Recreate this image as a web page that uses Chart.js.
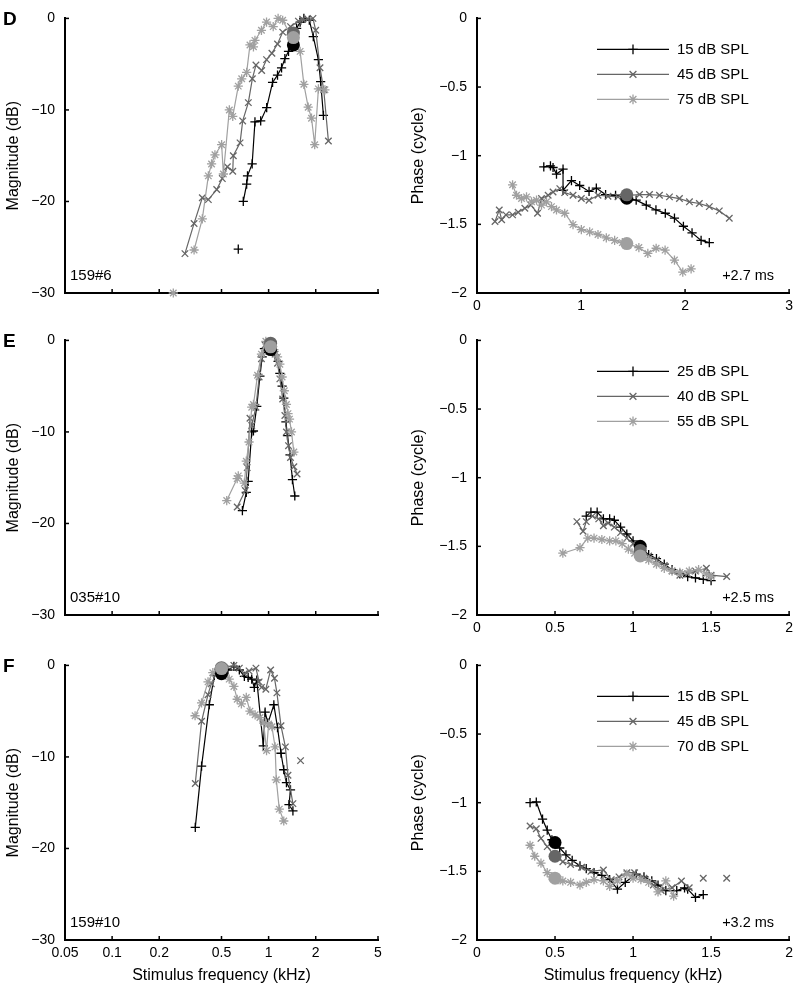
<!DOCTYPE html>
<html><head><meta charset="utf-8">
<script src="https://cdn.jsdelivr.net/npm/chart.js@4.4.1/dist/chart.umd.min.js"></script>
<style>
html,body{margin:0;padding:0;background:#fff}
body{width:798px;height:985px;position:relative;overflow:hidden}
canvas{position:absolute}
</style></head><body>
<canvas id="dL" width="400" height="320" style="left:0;top:0"></canvas>
<canvas id="dR" width="398" height="320" style="left:400px;top:0"></canvas>
<canvas id="eL" width="400" height="320" style="left:0;top:322px"></canvas>
<canvas id="eR" width="398" height="320" style="left:400px;top:322px"></canvas>
<canvas id="fL" width="400" height="338" style="left:0;top:647px"></canvas>
<canvas id="fR" width="398" height="338" style="left:400px;top:647px"></canvas>
<script>
// ---------- labels / ticks ----------
const levelsD = ['15 dB SPL', '45 dB SPL', '75 dB SPL'];
const levelsE = ['25 dB SPL', '40 dB SPL', '55 dB SPL'];
const levelsF = ['15 dB SPL', '45 dB SPL', '70 dB SPL'];
const panelLetters = ['D', 'E', 'F'];
const unitNames = ['159#6', '035#10', '159#10'];
const delays = ['+2.7 ms', '+2.5 ms', '+3.2 ms'];
const magTicks = [0, -10, -20, -30];
const phaseTicks = [0, -0.5, -1, -1.5, -2];
const logFreqTicks = [0.05, 0.1, 0.2, 0.5, 1, 2, 5];
const linFreqTicksD = [0, 1, 2, 3];
const linFreqTicksEF = [0, 0.5, 1, 1.5, 2];

// ---------- panel D (159#6) ----------
const dMag15 = [[0.64,-25.2], null, [0.689,-20.0],[0.724,-18.1],[0.733,-17.2],[0.785,-15.9],[0.818,-11.3],[0.89,-11.2],[0.972,-9.75],[1.06,-7.0],[1.14,-6.2],[1.21,-5.4],[1.27,-4.4],[1.34,-3.6],[1.43,-3.0],[1.51,-1.1],[1.59,-0.4],[1.68,0],[1.82,-0.2],[1.93,-2.0],[2.08,-4.5],[2.15,-6.9],[2.24,-10.6]];
const dMag45 = [[0.292,-25.7],[0.334,-22.4],[0.377,-19.6],[0.412,-19.8],[0.466,-18.7],[0.506,-17.5],[0.545,-16.2],[0.59,-16.7],[0.595,-15.0],[0.657,-13.6],[0.683,-11.2],[0.742,-9.2],[0.787,-6.6],[0.83,-5.1],[0.903,-5.7],[0.97,-4.5],[1.05,-3.8],[1.14,-2.8],[1.23,-1.5],[1.38,-0.9],[1.55,-0.3],[1.65,-0.1],[1.78,-0.1],[1.92,0],[2.0,-1.3],[2.13,-5.4],[2.25,-7.8],[2.41,-13.4]];
const dMag75 = [[0.246,-30], null, [0.334,-25.3],[0.377,-21.9],[0.412,-17.2],[0.432,-15.9],[0.454,-14.9],[0.501,-13.8],[0.514,-17.0],[0.561,-10.0],[0.59,-10.7],[0.64,-7.4],[0.673,-6.6],[0.724,-5.9],[0.76,-2.9],[0.8,-3.1],[0.818,-2.4],[0.9,-1.3],[0.97,-0.4],[1.07,-0.9],[1.15,0],[1.23,-0.2],[1.38,-1.8],[1.59,-3.6],[1.68,-7.2],[1.79,-9.7],[1.88,-10.9],[1.97,-13.8],[2.08,-7.7],[2.29,-7.8]];
const dPh15 = [[0.642,-1.081],[0.706,-1.074],[0.731,-1.086],[0.764,-1.134],[0.827,-1.098],[0.827,-1.252],[0.908,-1.181],[0.987,-1.217],[1.077,-1.26],[1.147,-1.236],[1.236,-1.283],[1.332,-1.288],[1.44,-1.31],[1.53,-1.324],[1.627,-1.36],[1.72,-1.395],[1.81,-1.419],[1.898,-1.455],[1.984,-1.514],[2.067,-1.562],[2.154,-1.617],[2.233,-1.633]];
const dPh45 = [[0.173,-1.479],[0.214,-1.395],[0.237,-1.467],[0.278,-1.431],[0.342,-1.431],[0.396,-1.412],[0.46,-1.383],[0.518,-1.36],[0.582,-1.419],[0.62,-1.312],[0.684,-1.288],[0.731,-1.264],[0.796,-1.24],[0.843,-1.269],[0.923,-1.288],[1.003,-1.312],[1.077,-1.324],[1.163,-1.288],[1.259,-1.295],[1.355,-1.3],[1.44,-1.29],[1.562,-1.283],[1.658,-1.283],[1.754,-1.288],[1.85,-1.3],[1.946,-1.312],[2.042,-1.336],[2.137,-1.348],[2.233,-1.371],[2.329,-1.402],[2.425,-1.455]];
const dPh75 = [[0.342,-1.212],[0.38,-1.288],[0.428,-1.312],[0.476,-1.3],[0.524,-1.336],[0.572,-1.324],[0.62,-1.36],[0.668,-1.336],[0.716,-1.371],[0.764,-1.395],[0.843,-1.419],[0.923,-1.502],[1.003,-1.538],[1.083,-1.555],[1.163,-1.574],[1.243,-1.598],[1.323,-1.617],[1.397,-1.633],[1.44,-1.64],[1.556,-1.669],[1.642,-1.712],[1.722,-1.674],[1.808,-1.688],[1.898,-1.76],[1.978,-1.848],[2.058,-1.824]];
const dCf = 1.44;
const dCfMag = [-2.9, -1.6, -2.1];
const dCfPh = [-1.31, -1.285, -1.64];

// ---------- panel E (035#10) ----------
const eMag25 = [[0.68,-18.6],[0.72,-16.6],[0.74,-15.4],[0.78,-10.0],[0.8,-9.9],[0.84,-7.2],[0.88,-3.9],[0.91,-1.8],[0.94,-0.9],[1.0,-0.8],[1.05,-0.9],[1.1,-1.6],[1.15,-2.3],[1.18,-3.6],[1.22,-5.0],[1.25,-6.3],[1.29,-8.9],[1.32,-10.4],[1.37,-12.5],[1.42,-15.2],[1.47,-17.0]];
const eMag40 = [[0.63,-18.2],[0.71,-16.4],[0.73,-13.9],[0.76,-8.5],[0.78,-9.3],[0.83,-7.3],[0.87,-4.0],[0.9,-2.0],[0.95,-0.5],[1.0,-0.3],[1.06,-0.8],[1.1,-1.5],[1.14,-2.5],[1.18,-4.2],[1.23,-6.4],[1.27,-8.2],[1.3,-10.0],[1.34,-11.5],[1.38,-12.8],[1.45,-13.8],[1.52,-14.6]];
const eMag55 = [[0.54,-17.5],[0.63,-15.1],[0.64,-14.8],[0.7,-15.6],[0.72,-13.2],[0.75,-11.1],[0.78,-7.3],[0.8,-7.0],[0.85,-3.8],[0.9,-1.5],[0.96,-0.1],[1.03,-0.6],[1.08,-1.0],[1.14,-1.8],[1.18,-2.6],[1.22,-4.0],[1.26,-5.5],[1.3,-7.0],[1.33,-8.0],[1.36,-8.6],[1.4,-10.0],[1.45,-12.2]];
const ePh25 = [[0.70,-1.28],[0.73,-1.25],[0.77,-1.25],[0.81,-1.3],[0.85,-1.3],[0.88,-1.31],[0.92,-1.36],[0.96,-1.41],[1.0,-1.46],[1.05,-1.51],[1.1,-1.56],[1.15,-1.59],[1.2,-1.63],[1.25,-1.67],[1.3,-1.7],[1.35,-1.72],[1.4,-1.73],[1.45,-1.74],[1.5,-1.75]];
const ePh40 = [[0.64,-1.32],[0.68,-1.39],[0.7,-1.32],[0.74,-1.28],[0.78,-1.3],[0.81,-1.35],[0.84,-1.33],[0.88,-1.36],[0.92,-1.4],[0.96,-1.44],[1.0,-1.48],[1.05,-1.53],[1.1,-1.57],[1.15,-1.6],[1.2,-1.64],[1.25,-1.68],[1.3,-1.71],[1.35,-1.7],[1.4,-1.68],[1.47,-1.66],[1.5,-1.71],[1.6,-1.72]];
const ePh55 = [[0.55,-1.55],[0.66,-1.51],[0.71,-1.44],[0.75,-1.44],[0.8,-1.45],[0.85,-1.46],[0.89,-1.46],[0.93,-1.48],[0.97,-1.52],[1.01,-1.55],[1.06,-1.58],[1.1,-1.6],[1.15,-1.63],[1.2,-1.66],[1.25,-1.68],[1.3,-1.69],[1.36,-1.68],[1.42,-1.67],[1.47,-1.7],[1.5,-1.72]];
const eCfMagFreq = 1.03;
const eCfPhFreq = 1.046;
const eCfMag = [-1.0, -0.3, -0.7];
const eCfPh = [-1.5, -1.53, -1.57];

// ---------- panel F (159#10) ----------
const fMag15 = [[0.34,-17.7],[0.373,-11.0],[0.418,-4.3],[0.45,-1.1],[0.5,-0.8],[0.55,-0.5],[0.6,-0.1],[0.65,-0.5],[0.7,-1.2],[0.74,-1.3],[0.78,-1.5],[0.81,-2.4],[0.84,-1.6],[0.925,-8.8],[0.95,-5.1],[0.99,-6.3],[1.08,-4.3],[1.14,-6.8],[1.2,-9.6],[1.25,-11.4],[1.3,-12.8],[1.38,-13.6],[1.35,-15.2],[1.43,-15.9]];
const fMag45 = [[0.34,-12.9],[0.373,-6.1],[0.41,-3.2],[0.43,-2.0],[0.47,-0.7],[0.52,-0.3],[0.6,0],[0.65,-0.3],[0.7,-0.9],[0.75,-0.6],[0.83,-0.3],[0.87,-1.8],[0.9,-2.4],[0.96,-2.6],[1.03,-0.5],[1.09,-1.4],[1.13,-3.0],[1.2,-6.6],[1.28,-8.9],[1.33,-12.0],[1.43,-15.1], null, [1.6,-10.4]];
const fMag70 = [[0.339,-5.5],[0.373,-4.1],[0.41,-1.8],[0.44,-0.8],[0.48,-0.3],[0.52,-0.2],[0.56,-1.5],[0.6,-2.3],[0.63,-3.7],[0.67,-4.2],[0.72,-3.5],[0.76,-5.0],[0.82,-5.4],[0.88,-5.7],[0.93,-6.3],[0.97,-9.3],[1.0,-6.4],[1.05,-6.7],[1.1,-8.9],[1.12,-12.5],[1.17,-15.7],[1.25,-17.0]];
const fPh15 = [[0.34,-1.0],[0.38,-0.995],[0.42,-1.12],[0.45,-1.2],[0.48,-1.27],[0.53,-1.33],[0.57,-1.38],[0.61,-1.42],[0.66,-1.46],[0.7,-1.48],[0.75,-1.51],[0.8,-1.53],[0.85,-1.56],[0.9,-1.63],[0.95,-1.58],[1.02,-1.52],[1.07,-1.54],[1.12,-1.57],[1.16,-1.6],[1.21,-1.64],[1.28,-1.64],[1.33,-1.62],[1.35,-1.63],[1.4,-1.69],[1.45,-1.67]];
const fPh45 = [[0.34,-1.17],[0.38,-1.19],[0.41,-1.26],[0.45,-1.32],[0.5,-1.39],[0.55,-1.43],[0.6,-1.45],[0.67,-1.47],[0.73,-1.5],[0.81,-1.49],[0.86,-1.56],[0.91,-1.54],[0.96,-1.51],[1.01,-1.51],[1.07,-1.55],[1.13,-1.6],[1.18,-1.64],[1.25,-1.62],[1.31,-1.57],[1.36,-1.62], null, [1.45,-1.55], null, [1.6,-1.55]];
const fPh70 = [[0.34,-1.31],[0.37,-1.39],[0.41,-1.44],[0.45,-1.51],[0.48,-1.54],[0.52,-1.56],[0.55,-1.57],[0.6,-1.58],[0.66,-1.6],[0.7,-1.58],[0.75,-1.56],[0.81,-1.57],[0.85,-1.61],[0.9,-1.57],[0.96,-1.52],[1.0,-1.55],[1.05,-1.56],[1.1,-1.58],[1.16,-1.65],[1.21,-1.57],[1.26,-1.68]];
const fCf = 0.5;
const fCfMag = [-0.9, -0.25, -0.35];
const fCfPh = [-1.29, -1.39, -1.55];

// ---------- styling ----------
const FONT = "'Liberation Sans', Arial, Helvetica, sans-serif";
const seriesStyle = [
  {color: '#000000', point: 'cross'},
  {color: '#666666', point: 'crossRot'},
  {color: '#a0a0a0', point: 'star'}
];
const fmt = v => (v < 0 ? '\u2212' + String(Math.abs(v)) : String(v));
const toPts = arr => arr.map((p, i) => p === null ? {x: arr[i - 1][0], y: null} : {x: p[0], y: p[1]});

function marker(ctx, style, x, y, r) {
  ctx.beginPath();
  const d = r * Math.SQRT1_2;
  if (style === 'cross' || style === 'star') {
    ctx.moveTo(x - r, y); ctx.lineTo(x + r, y);
    ctx.moveTo(x, y - r); ctx.lineTo(x, y + r);
  }
  if (style === 'crossRot' || style === 'star') {
    ctx.moveTo(x - d, y - d); ctx.lineTo(x + d, y + d);
    ctx.moveTo(x - d, y + d); ctx.lineTo(x + d, y - d);
  }
  ctx.stroke();
}

const deco = {
  id: 'deco',
  afterDraw(chart, args, o) {
    const ctx = chart.ctx, a = chart.chartArea;
    const xs = chart.scales.x, ys = chart.scales.y;
    ctx.save();
    ctx.strokeStyle = '#000'; ctx.lineWidth = 1.5;
    xs.ticks.forEach(t => { const p = xs.getPixelForValue(t.value); ctx.beginPath(); ctx.moveTo(p, a.bottom); ctx.lineTo(p, a.bottom - 4); ctx.stroke(); });
    ys.ticks.forEach(t => { const p = ys.getPixelForValue(t.value); ctx.beginPath(); ctx.moveTo(a.left, p); ctx.lineTo(a.left + 4, p); ctx.stroke(); });
    ctx.fillStyle = '#000'; ctx.textBaseline = 'middle';
    if (o.letter) { ctx.font = 'bold 19px ' + FONT; ctx.textAlign = 'left'; ctx.fillText(o.letter, 3, a.top + 1); }
    if (o.unit) { ctx.font = '15px ' + FONT; ctx.textAlign = 'left'; ctx.fillText(o.unit, a.left + 5, a.bottom - 17); }
    if (o.delay) { ctx.font = '14.5px ' + FONT; ctx.textAlign = 'right'; ctx.fillText(o.delay, a.right - 15, a.bottom - 17); }
    if (o.legend) {
      o.legend.forEach((lab, i) => {
        const st = seriesStyle[i];
        const y = a.top + 31 + 25 * i;
        ctx.strokeStyle = st.color; ctx.lineWidth = 1.2;
        ctx.beginPath(); ctx.moveTo(a.left + 120, y); ctx.lineTo(a.left + 192, y); ctx.stroke();
        ctx.lineWidth = 1.3;
        marker(ctx, st.point, a.left + 156, y, 4.8);
        ctx.fillStyle = '#000'; ctx.font = '15px ' + FONT; ctx.textAlign = 'left';
        ctx.fillText(lab, a.left + 200, y);
      });
    }
    ctx.restore();
  }
};

function makePanel(id, p) {
  const datasets = p.series.map((s, i) => ({
    label: p.names[i],
    data: toPts(s),
    showLine: true, spanGaps: false, clip: false,
    borderColor: seriesStyle[i].color, borderWidth: 1.2,
    pointStyle: seriesStyle[i].point, pointRadius: 4.6,
    pointBorderColor: seriesStyle[i].color, pointBorderWidth: 1.3,
    pointBackgroundColor: 'rgba(0,0,0,0)',
    order: 2 - i
  }));
  datasets.push({
    label: 'CF', data: p.cfY.map(y => ({x: p.cfX, y: y})),
    showLine: false, clip: false, pointStyle: 'circle', pointRadius: 6.5,
    pointBackgroundColor: seriesStyle.map(s => s.color), pointBorderColor: seriesStyle.map(s => s.color),
    pointBorderWidth: 0, order: -1
  });
  new Chart(document.getElementById(id), {
    type: 'scatter',
    data: {datasets},
    options: {
      responsive: false, animation: false, events: [],
      layout: {padding: {top: 13, right: p.rightPad, left: 0, bottom: 0}},
      plugins: {legend: {display: false}, tooltip: {enabled: false},
        deco: {letter: p.letter, unit: p.unit, delay: p.delay, legend: p.legend}},
      scales: {
        x: {
          type: p.xType, position: 'bottom', min: p.xMin, max: p.xMax,
          afterBuildTicks: s => { s.ticks = p.xTicks.map(v => ({value: v})); },
          afterFit: s => { s.height = p.xHeight; },
          grid: {display: false, drawTicks: false},
          border: {display: true, color: '#000', width: 2},
          ticks: {display: p.xLabels, color: '#000', font: {family: FONT, size: 14}, padding: 5,
            maxRotation: 0, autoSkip: false, callback: v => fmt(v)},
          title: {display: !!p.xTitle, text: p.xTitle || '', color: '#000', font: {family: FONT, size: 16}, padding: {top: 0, bottom: 0}}
        },
        y: {
          type: 'linear', position: 'left', min: p.yMin, max: p.yMax,
          afterBuildTicks: s => { s.ticks = p.yTicks.map(v => ({value: v})); },
          afterFit: s => { s.width = p.yWidth; },
          grid: {display: false, drawTicks: false},
          border: {display: true, color: '#000', width: 2},
          ticks: {color: '#000', font: {family: FONT, size: 14}, padding: 10, autoSkip: false, callback: v => fmt(v)},
          title: {display: true, text: p.yTitle, color: '#000', font: {family: FONT, size: 16}, padding: {top: p.yTitlePad, bottom: 0}}
        }
      }
    },
    plugins: [deco]
  });
}

const leftBase = {xType: 'logarithmic', xMin: 0.05, xMax: 5, xTicks: logFreqTicks, yMin: -30, yMax: 0, yTicks: magTicks,
  yTitle: 'Magnitude (dB)', yWidth: 65, rightPad: 22, yTitlePad: 4};
const rightBase = {xType: 'linear', yMin: -2, yMax: 0, yTicks: phaseTicks, yTitle: 'Phase (cycle)', yWidth: 77, rightPad: 8, yTitlePad: 9, xLabels: true};

makePanel('dL', Object.assign({}, leftBase, {series: [dMag15, dMag45, dMag75], names: levelsD, cfX: dCf, cfY: dCfMag,
  letter: panelLetters[0], unit: unitNames[0], xLabels: false, xHeight: 27}));
makePanel('dR', Object.assign({}, rightBase, {series: [dPh15, dPh45, dPh75], names: levelsD, cfX: dCf, cfY: dCfPh,
  xMin: 0, xMax: 3, xTicks: linFreqTicksD, delay: delays[0], legend: levelsD, xHeight: 27}));
makePanel('eL', Object.assign({}, leftBase, {series: [eMag25, eMag40, eMag55], names: levelsE, cfX: eCfMagFreq, cfY: eCfMag,
  letter: panelLetters[1], unit: unitNames[1], xLabels: false, xHeight: 27}));
makePanel('eR', Object.assign({}, rightBase, {series: [ePh25, ePh40, ePh55], names: levelsE, cfX: eCfPhFreq, cfY: eCfPh,
  xMin: 0, xMax: 2, xTicks: linFreqTicksEF, delay: delays[1], legend: levelsE, xHeight: 27}));
makePanel('fL', Object.assign({}, leftBase, {series: [fMag15, fMag45, fMag70], names: levelsF, cfX: fCf, cfY: fCfMag,
  letter: panelLetters[2], unit: unitNames[2], xLabels: true, xHeight: 45, xTitle: 'Stimulus frequency (kHz)'}));
makePanel('fR', Object.assign({}, rightBase, {series: [fPh15, fPh45, fPh70], names: levelsF, cfX: fCf, cfY: fCfPh,
  xMin: 0, xMax: 2, xTicks: linFreqTicksEF, delay: delays[2], legend: levelsF, xHeight: 45, xTitle: 'Stimulus frequency (kHz)'}));
</script>
</body></html>
